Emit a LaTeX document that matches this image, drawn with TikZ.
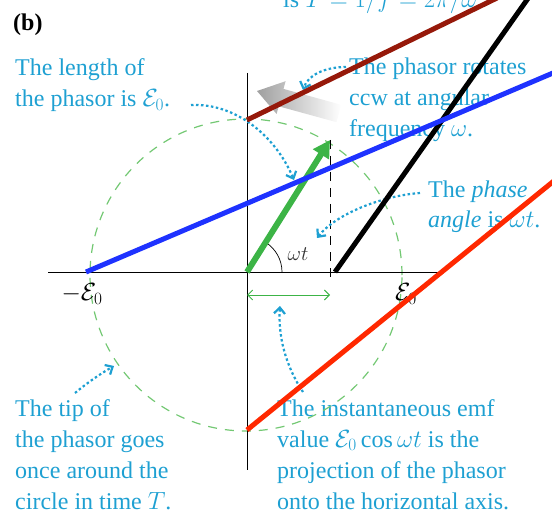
\documentclass[tikz,border=0pt]{standalone}
\usepackage{fontspec}
\setmainfont{Liberation Serif}
\usetikzlibrary{arrows.meta}

\definecolor{noteblue}{RGB}{30,160,210}
\definecolor{phasorgreen}{RGB}{60,180,70}
\definecolor{circlegreen}{RGB}{115,200,115}
\definecolor{lineblue}{RGB}{30,50,255}
\definecolor{linered}{RGB}{255,40,0}
\definecolor{linebrown}{RGB}{150,25,10}

\tikzset{
  note/.style={text=noteblue,font=\fontsize{24}{31}\selectfont,align=left,anchor=base west,inner sep=0pt},
  pointer/.style={noteblue,line width=2.2pt,dash pattern=on 2.5pt off 2.5pt,-{Straight Barb[length=6pt,width=11pt]}},
  thickline/.style={line width=5pt},
  axislabel/.style={font=\fontsize{24}{28}\selectfont,inner sep=0pt}
}

\begin{document}
\begin{tikzpicture}[x=1pt,y=-1pt]
  \useasboundingbox (0,0) rectangle (552,516);
  \clip (0,0) rectangle (552,516);

  \coordinate (O) at (247,272);
  \coordinate (tip) at (330,140);
  \coordinate (foot) at (330,282);
  \coordinate (xl) at (48,272);
  \coordinate (xr) at (443,272);
  \coordinate (yt) at (247,73);
  \coordinate (yb) at (247,470);
  \coordinate (pl) at (247,295);
  \coordinate (pr) at (330,295);

  \node[font=\bfseries\fontsize{24}{28}\selectfont,anchor=base west,inner sep=0pt] (panel) at (13,31) {(b)};
  \node[note] (periodnote) at (283,8) {is $T = 1/f = 2\pi/\omega$.};
  \node[note] (lengthnote) at (15,107) {The length of\\the phasor is $\mathcal{E}_0$.};
  \node[note] (rotnote) at (349,137) {The phasor rotates\\ccw at angular\\frequency $\omega$.};
  \node[note] (phasenote) at (428,228) {The \textit{phase}\\\textit{angle} is $\omega t$.};
  \node[note] (tipnote) at (15,509) {The tip of\\the phasor goes\\once around the\\circle in time $T$.};
  \node[note] (emfnote) at (277,509) {The instantaneous emf\\value $\mathcal{E}_0\cos\omega t$ is the\\projection of the phasor\\onto the horizontal axis.};

  \draw[circlegreen,line width=1.2pt,dash pattern=on 9pt off 8pt] (246,275) circle (156pt);
  \draw[line width=0.8pt] (xl) -- (xr);
  \draw[line width=0.8pt] (yt) -- (yb);

  \node[axislabel] (minuslabel) at (82,294) {$-\mathcal{E}_0$};
  \node[axislabel] (pluslabel) at (406,294) {$\mathcal{E}_0$};
  \node[font=\fontsize{20}{24}\selectfont,inner sep=0pt,text=black!80] (anglelabel) at (298,254) {$\omega t$};

  \draw[line width=0.7pt] (282,272) arc[start angle=0,end angle=-58,radius=35];
  \draw[line width=1pt,dash pattern=on 9pt off 7pt] (tip) -- (foot);
  \draw[phasorgreen,line width=6pt,-{Triangle[length=17pt,width=18pt]}] (O) -- (tip);
  \draw[phasorgreen,line width=0.9pt,{Straight Barb[length=5pt,width=10pt]}-{Straight Barb[length=5pt,width=10pt]}] (pl) -- (pr);

  \shade[left color=gray!75,right color=white]
    (257,91) -- (285.6,81.2) -- (283.5,88.9) -- (341.3,104.8)
    -- (336.5,122.2) -- (278.7,106.3) -- (276.6,114.0) -- cycle;

  \coordinate (lenS) at (191,105);
  \coordinate (lenE) at (294,180);
  \coordinate (rotS) at (346,67);
  \coordinate (rotE) at (303,90);
  \coordinate (phaseS) at (420,193);
  \coordinate (phaseE) at (317,238);
  \coordinate (tipS) at (75,393);
  \coordinate (tipE) at (114,366);
  \coordinate (emfS) at (303,392);
  \coordinate (emfE) at (280,306);
  \draw[pointer] (lenS) .. controls (235,103) and (275,135) .. (lenE);
  \draw[pointer] (rotS) .. controls (325,67) and (308,75) .. (rotE);
  \draw[pointer] (phaseS) .. controls (380,196) and (335,215) .. (phaseE);
  \draw[pointer] (tipS) .. controls (87,383) and (100,374) .. (tipE);
  \draw[pointer] (emfS) .. controls (285,365) and (278,335) .. (emfE);

  \coordinate (brownA) at (247,120);
  \coordinate (brownB) at (497,-2);
  \coordinate (blackA) at (335,272);
  \coordinate (blackB) at (529,-3);
  \coordinate (blueA) at (86,272);
  \coordinate (blueB) at (560,70);
  \coordinate (redA) at (247,430);
  \coordinate (redB) at (560,176);
  \draw[linebrown,thickline] (brownA) -- (brownB);
  \draw[black,thickline] (blackA) -- (blackB);
  \draw[lineblue,thickline] (blueA) -- (blueB);
  \draw[linered,thickline] (redA) -- (redB);
\end{tikzpicture}
\end{document}
